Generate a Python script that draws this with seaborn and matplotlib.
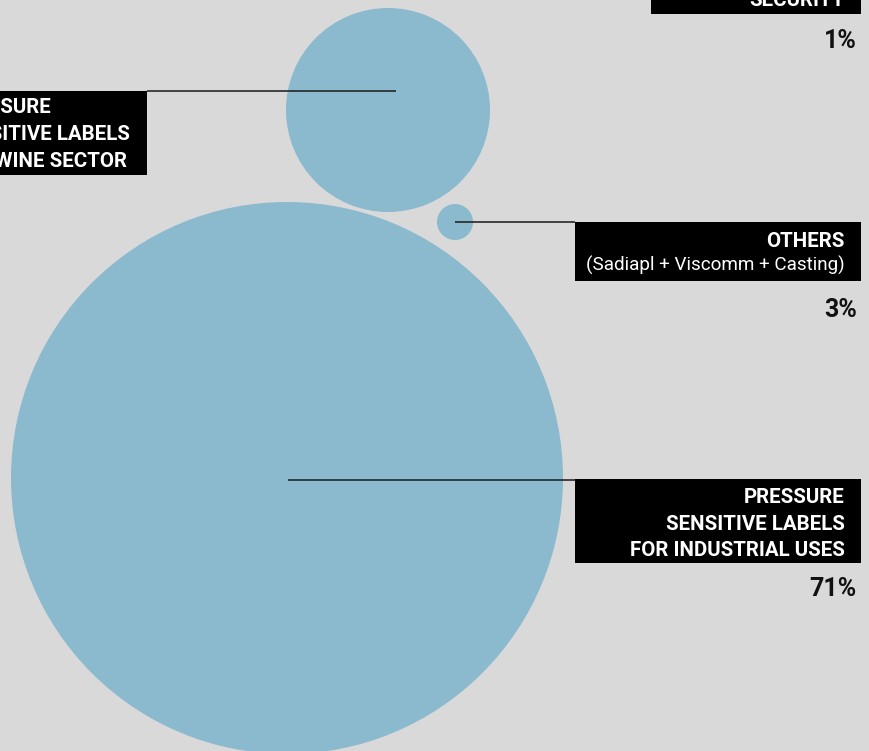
import matplotlib
matplotlib.use("Agg")
import matplotlib.pyplot as plt
from matplotlib.patches import Circle, Rectangle
import seaborn as sns

# ---- data ----
segments = ["SECURITY", "WINE", "OTHERS", "INDUSTRIAL"]
percent_labels = ["1%", None, "3%", "71%"]
title_lines = [
    ["SECURITY"],
    ["PRESSURE", "SENSITIVE LABELS", "FOR WINE SECTOR"],
    ["OTHERS"],
    ["PRESSURE", "SENSITIVE LABELS", "FOR INDUSTRIAL USES"],
]
sub_lines = [None, None, "(Sadiapl + Viscomm + Casting)", None]

# ---- layout (pixel space) ----
BG = "#d9d9d9"
BUBBLE = "#8bb9ce"
circles = {"WINE": (388, 110, 102), "OTHERS": (455, 222, 18), "INDUSTRIAL": (287, 478, 276)}

sns.set_theme(style="white")
plt.rcParams["font.family"] = ["Roboto", "DejaVu Sans"]

fig = plt.figure(figsize=(8.7, 7.51), dpi=100, facecolor=BG)
ax = fig.add_axes([0, 0, 1, 1])
ax.set_facecolor(BG)
ax.set_xlim(0, 870)
ax.set_ylim(751, 0)
ax.set_aspect("equal")
ax.axis("off")

for seg in segments:
    if seg in circles:
        cx, cy, r = circles[seg]
        ax.add_patch(Circle((cx, cy), r, color=BUBBLE, lw=0, zorder=1))

fs = 14.8
title_kw = dict(family=["Roboto", "DejaVu Sans"], fontweight="bold", color="white", fontsize=fs, zorder=3)
pct_kw = dict(family=["Roboto", "DejaVu Sans"], fontweight="bold", color="#111111", fontsize=18,
              ha="right", va="center", zorder=3)
line_kw = dict(color="#1a1a1a", lw=1.1, zorder=3, solid_capstyle="butt")

# SECURITY (cropped at top)
ax.add_patch(Rectangle((651, -20), 210, 34, color="black", lw=0, zorder=2))
ax.text(845, 6, title_lines[0][0], ha="right", va="baseline", **title_kw)
ax.text(857, 41, percent_labels[0], **pct_kw)

# WINE box (cropped at left)
ax.plot([147, 396], [91, 91], **line_kw)
ax.add_patch(Rectangle((-60, 91), 207, 84, color="black", lw=0, zorder=2))
for i, line in enumerate(title_lines[1]):
    ax.text(-49, 113 + i * 27, line, ha="left", va="baseline", **title_kw)

# OTHERS
ax.plot([455, 575], [222, 222], **line_kw)
ax.add_patch(Rectangle((575, 222), 286, 59, color="black", lw=0, zorder=2))
ax.text(845, 247, title_lines[2][0], ha="right", va="baseline", **title_kw)
ax.text(845, 271, sub_lines[2], ha="right", va="baseline", family=["Roboto", "DejaVu Sans"],
        color="white", fontsize=13.6, zorder=3)
ax.text(857, 310, percent_labels[2], **pct_kw)

# INDUSTRIAL
ax.plot([288, 575], [480, 480], **line_kw)
ax.add_patch(Rectangle((575, 479), 286, 84, color="black", lw=0, zorder=2))
for i, line in enumerate(title_lines[3]):
    ax.text(845, 503 + i * 26.7, line, ha="right", va="baseline", **title_kw)
ax.text(857, 589, percent_labels[3], **pct_kw)

fig.savefig("out.png", dpi=100, facecolor=BG)
